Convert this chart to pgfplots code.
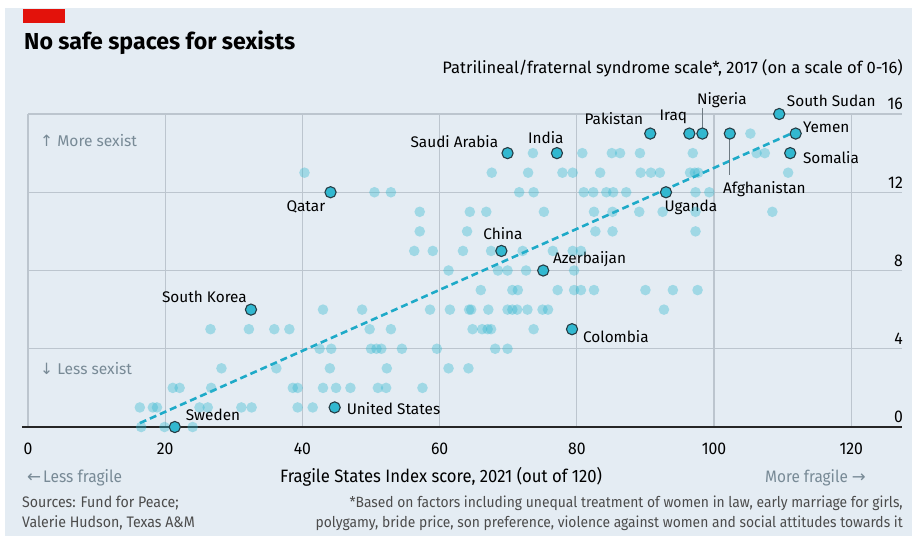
\documentclass[border=0pt]{standalone}
\usepackage{fontspec}
\setmainfont{Fira Sans}
\newfontfamily\cond[FakeStretch=0.93]{Fira Sans}
\newfontfamily\dv{DejaVu Sans}
\usepackage{pgfplots}
\pgfplotsset{compat=1.18}

\definecolor{bg}{RGB}{228,236,243}
\definecolor{gridc}{RGB}{188,197,206}
\definecolor{ptcol}{RGB}{50,184,208}
\definecolor{lncol}{RGB}{30,170,200}
\definecolor{edge}{RGB}{38,60,68}
\definecolor{note}{RGB}{120,138,150}
\definecolor{econred}{RGB}{227,18,11}
\definecolor{leader}{RGB}{110,122,130}

\tikzset{lbl/.style={inner sep=0, font=\fontsize{15.4}{18}\selectfont}}

\pgfplotstableread{
x y
16.5 0
19.9 0
24.0 0
16.3 1
18.2 1
18.8 1
25.0 1
26.2 1
31.1 1
32.6 1
39.3 1
41.5 1
21.1 2
22.1 2
26.7 2
38.6 2
39.3 2
43.0 2
44.9 2
47.0 2
51.0 2
52.2 2
57.5 2
28.2 3
36.2 3
44.0 3
52.3 3
61.3 3
64.2 3
42.5 4
44.2 4
50.0 4
50.8 4
51.5 4
54.5 4
59.6 4
68.1 4
69.9 4
26.6 5
32.2 5
35.9 5
38.1 5
49.8 5
52.9 5
64.8 5
66.2 5
67.0 5
67.5 5
73.7 5
43.0 6
48.7 6
58.6 6
61.5 6
64.3 6
64.6 6
67.1 6
69.9 6
70.6 6
71.3 6
72.8 6
75.0 6
75.8 6
92.7 6
66.0 7
70.6 7
71.4 7
77.2 7
79.6 7
80.6 7
82.5 7
90.0 7
94.0 7
97.6 7
61.3 8
68.5 8
69.9 8
72.6 8
79.6 8
56.3 9
59.0 9
63.4 9
67.5 9
72.1 9
76.5 9
79.4 9
80.6 9
57.1 10
64.0 10
82.7 10
85.2 10
97.3 10
57.1 11
64.4 11
66.8 11
75.2 11
82.5 11
85.2 11
89.1 11
92.5 11
97.3 11
108.5 11
50.5 12
52.9 12
71.6 12
73.7 12
81.0 12
82.4 12
84.3 12
85.3 12
87.2 12
97.3 12
99.3 12
40.3 13
67.6 13
72.9 13
77.9 13
79.4 13
83.4 13
89.3 13
90.8 13
92.1 13
96.5 13
97.2 13
97.7 13
110.8 13
73.6 14
80.8 14
85.1 14
86.3 14
89.2 14
96.9 14
106.2 14
107.4 14
105.3 15
}\others

\pgfplotstableread{
x y
21.4 0
44.7 1
32.5 6
44.1 12
69.0 9
69.9 14
77.1 14
75.1 8
79.3 5
90.7 15
96.4 15
98.3 15
102.3 15
109.5 16
111.9 15
111.1 14
93.0 12
}\named

\begin{document}
\begin{tikzpicture}
\begin{scope}[x=1bp,y=-1bp]
  \fill[white] (0,0) rectangle (912,539);
  \fill[bg] (5,8) rectangle (912,536);
  \fill[econred] (23,9) rectangle (65,23);
  \node[anchor=base west, inner sep=0, font=\bfseries\fontsize{23.2}{24}\selectfont] at (24,50) {No safe spaces for sexists};
  \node[anchor=base east, inner sep=0, font=\fontsize{16.6}{18}\selectfont] at (903,74) {Patrilineal/fraternal syndrome scale*, 2017 (on a scale of 0-16)};
  \node[anchor=base west, inner sep=0, text=note, font=\fontsize{15.6}{18}\selectfont] at (40,147) {{\dv ↑} More sexist};
  \node[anchor=base west, inner sep=0, text=note, font=\fontsize{15.6}{18}\selectfont] at (40,374) {{\dv ↓} Less sexist};
  \node[anchor=base west, inner sep=0, text=note, font=\cond\fontsize{16.8}{19}\selectfont] at (27,482) {{\dv ←}\hspace{2bp}Less fragile};
  \node[anchor=base east, inner sep=0, text=note, font=\cond\fontsize{16.6}{19}\selectfont] at (866,482) {More fragile {\dv →}};
  \node[anchor=base west, inner sep=0, font=\cond\fontsize{18}{19}\selectfont] at (280,482) {Fragile States Index score, 2021 (out of 120)};
  \node[anchor=base west, inner sep=0, text=black!70, font=\cond\fontsize{15.3}{17}\selectfont] at (22,507) {Sources: Fund for Peace;};
  \node[anchor=base west, inner sep=0, text=black!70, font=\cond\fontsize{15.3}{17}\selectfont] at (22,527) {Valerie Hudson, Texas A\&M};
  \node[anchor=base east, inner sep=0, text=black!70, font=\cond\fontsize{14.95}{17}\selectfont] at (903,507) {*Based on factors including unequal treatment of women in law, early marriage for girls,};
  \node[anchor=base east, inner sep=0, text=black!70, font=\cond\fontsize{14.95}{17}\selectfont] at (903,527) {polygamy, bride price, son preference, violence against women and social attitudes towards it};
\end{scope}

\begin{axis}[
  at={(28bp,-427bp)}, anchor=south west,
  scale only axis, width=874bp, height=313bp,
  xmin=0, xmax=127.4, ymin=0, ymax=16,
  clip=false,
  axis line style={draw=none},
  major tick length=0pt,
  xtick={0,20,...,120}, ytick={0,4,...,16},
  xmajorgrids, ymajorgrids,
  major grid style={gridc, line width=1.1bp},
  yticklabel pos=right,
  /pgf/number format/assume math mode=true,
  ticklabel style={font=\cond\fontsize{17}{20}\selectfont, text=black},
  xticklabel style={anchor=base, yshift=-27bp},
  yticklabel style={anchor=south east, inner sep=0pt, xshift=1bp, yshift=4bp},
]
\draw[black!85, line width=1.5bp] (axis cs:-0.9,0) -- (axis cs:127.4,0);

\addplot[only marks, mark=*, mark size=5.3bp,
  mark options={draw=ptcol, draw opacity=0, fill=ptcol, fill opacity=0.38}] table {\others};

\addplot[lncol, line width=2.6bp, dash pattern=on 7bp off 4bp]
  coordinates {(16.3,0.2) (111.9,15.1)};

\draw[leader, line width=1bp] (axis cs:98.3,15.3) -- (axis cs:98.3,16.3);
\draw[leader, line width=1bp] (axis cs:102.3,14.75) -- (axis cs:102.3,12.9);

\addplot[only marks, mark=*, mark size=5.6bp,
  mark options={draw=edge, fill=ptcol, line width=1.1bp}] table {\named};

\node[lbl, anchor=base west] at (axis cs:22.98,0.31) {Sweden};
\node[lbl, anchor=base west] at (axis cs:46.44,0.65) {United States};
\node[lbl, anchor=base] at (axis cs:25.72,6.38) {South Korea};
\node[lbl, anchor=base] at (axis cs:40.51,11.02) {Qatar};
\node[lbl, anchor=base] at (axis cs:69.22,9.59) {China};
\node[lbl, anchor=base] at (axis cs:62.15,14.30) {Saudi Arabia};
\node[lbl, anchor=base] at (axis cs:75.49,14.50) {India};
\node[lbl, anchor=base west] at (axis cs:76.51,8.34) {Azerbaijan};
\node[lbl, anchor=base west] at (axis cs:80.88,4.31) {Colombia};
\node[lbl, anchor=base] at (axis cs:85.4,15.45) {Pakistan};
\node[lbl, anchor=base] at (axis cs:94.07,15.65) {Iraq};
\node[lbl, anchor=base] at (axis cs:101.14,16.47) {Nigeria};
\node[lbl, anchor=base] at (axis cs:117.09,16.38) {South Sudan};
\node[lbl, anchor=base west] at (axis cs:112.94,15.05) {Yemen};
\node[lbl, anchor=base west] at (axis cs:112.94,13.49) {Somalia};
\node[lbl, anchor=base] at (axis cs:107.33,11.95) {Afghanistan};
\node[lbl, anchor=base] at (axis cs:96.62,11.01) {Uganda};
\end{axis}
\end{tikzpicture}
\end{document}
